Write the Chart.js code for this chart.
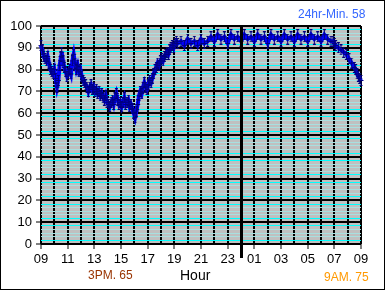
<!DOCTYPE html>
<html>
<head>
<meta charset="utf-8">
<script src="https://cdn.jsdelivr.net/npm/chart.js@4.4.0/dist/chart.umd.min.js"></script>
<style>
  html, body { margin: 0; padding: 0; background: #fff; }
  #wrap { width: 385px; height: 290px; }
</style>
</head>
<body>
<div id="wrap"><canvas id="chart" width="385" height="290"></canvas></div>
<script>
// Hours since 09:00 and the reading at each of them
const hours = [
  0.0, 0.1, 0.2, 0.3, 0.4, 0.5, 0.6, 0.7, 0.8, 0.9,
  1.0, 1.1, 1.2, 1.3, 1.4, 1.5, 1.55, 1.65, 1.75, 1.85,
  1.95, 2.05, 2.15, 2.25, 2.35, 2.45, 2.55, 2.65, 2.75, 2.85,
  2.95, 3.05, 3.15, 3.25, 3.35, 3.45, 3.55, 3.65, 3.75, 3.85,
  3.95, 4.05, 4.15, 4.25, 4.35, 4.45, 4.55, 4.65, 4.75, 4.85,
  4.95, 5.05, 5.15, 5.25, 5.35, 5.45, 5.55, 5.65, 5.75, 5.85,
  5.95, 6.05, 6.15, 6.25, 6.35, 6.45, 6.55, 6.65, 6.75, 6.85,
  6.95, 7.05, 7.15, 7.25, 7.35, 7.45, 7.55, 7.65, 7.75, 7.85,
  7.95, 8.05, 8.15, 8.25, 8.35, 8.45, 8.55, 8.65, 8.75, 8.85,
  8.95, 9.05, 9.15, 9.25, 9.35, 9.45, 9.55, 9.65, 9.75, 9.85,
  9.95, 10.05, 10.15, 10.25,
  10.5, 10.75, 11.0, 11.25, 11.5, 11.75, 12.0, 12.25, 12.5,
  12.75, 13.0, 13.25, 13.5, 13.75, 14.0, 14.25, 14.5, 14.75, 15.0,
  15.25, 15.5, 15.75, 16.0, 16.25, 16.5, 16.75, 17.0, 17.25, 17.5,
  17.75, 18.0, 18.25, 18.5, 18.75, 19.0, 19.25, 19.5, 19.75, 20.0,
  20.25, 20.5, 20.75, 21.0, 21.25, 21.5, 21.75,
  21.9, 22.0, 22.1, 22.3, 22.5, 22.7, 22.9, 23.1, 23.3, 23.5, 23.6, 23.7, 23.8, 23.9, 24.0
];
const temps = [
  91, 89, 86, 85, 84, 86, 83, 80, 79, 78,
  80, 76, 72, 75, 82, 86, 88, 84, 81, 79,
  77, 78, 80, 78, 84, 87, 83, 80, 82, 79,
  80, 77, 75, 74, 73, 72, 70, 72, 73, 71,
  72, 70, 71, 69, 70, 68, 69, 67, 66, 68,
  65, 64, 63, 65, 66, 64, 67, 69, 66, 64,
  65, 63, 65, 67, 64, 65, 66, 63, 64, 62,
  60, 58, 61, 64, 68, 70, 69, 72, 74, 72,
  71, 73, 75, 74, 76, 78, 80, 81, 83, 82,
  84, 85, 84, 86, 87, 88, 87, 89, 90, 91,
  90, 92, 93, 92,
  93, 91, 94, 92, 93, 91, 94, 92, 93,
  95, 93, 96, 94, 95, 92, 96, 94, 95, 93,
  96, 94, 95, 93, 96, 94, 95, 92, 96, 94,
  95, 93, 96, 94, 95, 93, 96, 94, 95, 93,
  96, 94, 95, 93, 96, 94, 93,
  93, 92, 91, 90, 89, 88, 87, 85, 83, 81, 80, 78, 77, 76, 75
];
const hourLabels = ['09', '10', '11', '12', '13', '14', '15', '16', '17', '18', '19', '20', '21',
  '22', '23', '00', '01', '02', '03', '04', '05', '06', '07', '08', '09'];
const yMajor = [0, 10, 20, 30, 40, 50, 60, 70, 80, 90, 100];
const minorPerMajor = 6;
const midnightIndex = 15;

const FONT = '"Liberation Sans", Arial, sans-serif';

// error-bar looking "+" marker
function makeMarker() {
  const c = document.createElement('canvas');
  c.width = 7; c.height = 11;
  const g = c.getContext('2d');
  g.fillStyle = '#000080';
  g.fillRect(3, 0, 1, 11);
  g.fillRect(1, 5, 5, 1);
  g.fillRect(2, 0, 3, 1);
  g.fillRect(2, 10, 3, 1);
  return c;
}

const decor = {
  id: 'decor',
  beforeDraw(chart) {
    const { ctx, chartArea: a } = chart;
    ctx.save();
    ctx.fillStyle = '#fff';
    ctx.fillRect(0, 0, chart.width, chart.height);
    ctx.fillStyle = '#c0c0c0';
    ctx.fillRect(a.left, a.top, a.right - a.left, a.bottom - a.top);
    ctx.restore();
  },
  afterDatasetsDraw(chart) {
    const { ctx, chartArea: a } = chart;
    const x = Math.round(chart.scales.x.getPixelForValue(midnightIndex));
    ctx.save();
    ctx.fillStyle = '#000';
    ctx.fillRect(x - 1, a.top, 3, 258 - a.top);
    ctx.restore();
  },
  afterDraw(chart) {
    const { ctx } = chart;
    ctx.save();
    ctx.textBaseline = 'middle';
    ctx.textAlign = 'left';
    ctx.font = '12px ' + FONT;
    ctx.fillStyle = '#3366ff';
    ctx.fillText('24hr-Min. 58', 298, 14.5);
    ctx.fillStyle = '#993300';
    ctx.fillText('3PM. 65', 88, 276);
    ctx.fillStyle = '#ff9900';
    ctx.fillText('9AM. 75', 324, 277.5);
    ctx.font = '14px ' + FONT;
    ctx.fillStyle = '#000';
    ctx.fillText('Hour', 180, 276);
    ctx.strokeStyle = '#000';
    ctx.lineWidth = 1;
    ctx.strokeRect(0.5, 0.5, chart.width - 1, chart.height - 1);
    ctx.restore();
  }
};

new Chart(document.getElementById('chart'), {
  type: 'line',
  data: {
    datasets: [{
      data: hours.map((h, i) => ({ x: h, y: temps[i] })),
      borderColor: '#0000ff',
      borderWidth: 4,
      tension: 0,
      pointStyle: makeMarker(),
      pointRadius: 4,
      clip: false
    }]
  },
  options: {
    responsive: false,
    animation: false,
    devicePixelRatio: 1,
    layout: { padding: { top: 26, right: 24, left: 0, bottom: 0 } },
    plugins: { legend: { display: false }, tooltip: { enabled: false } },
    scales: {
      x: {
        type: 'linear',
        min: 0,
        max: 24,
        afterFit: s => { s.height = 46; },
        ticks: {
          stepSize: 1,
          autoSkip: false,
          maxRotation: 0,
          padding: 3,
          color: '#000',
          font: { family: FONT, size: 13 },
          callback: v => (v % 2 === 0 ? hourLabels[v] : '')
        },
        grid: {
          color: ctx => (ctx.index === midnightIndex ? 'rgba(0,0,0,0)' : '#000'),
          lineWidth: 2,
          tickLength: 5,
          tickColor: ctx => (ctx.index % 2 === 0 ? '#000' : 'rgba(0,0,0,0)'),
          tickWidth: 1
        },
        border: { display: false }
      },
      y: {
        min: 0,
        max: 100,
        afterFit: s => { s.width = 41; },
        afterBuildTicks: s => {
          const ticks = [];
          yMajor.forEach((v, i) => {
            ticks.push({ value: v });
            if (i < yMajor.length - 1) {
              for (let k = 1; k < minorPerMajor; k++) {
                ticks.push({ value: v + (yMajor[i + 1] - v) * k / minorPerMajor });
              }
            }
          });
          s.ticks = ticks;
        },
        ticks: {
          autoSkip: false,
          padding: 4,
          color: '#000',
          font: { family: FONT, size: 13 },
          callback: (v, i) => (i % minorPerMajor === 0 ? String(yMajor[i / minorPerMajor]) : '')
        },
        grid: {
          color: ctx => {
            const k = ctx.index % minorPerMajor;
            if (k === 0) return '#000';
            if (k === 1 || k === minorPerMajor - 1) return '#00ffff';
            return '#a8e0e0';
          },
          lineWidth: ctx => (ctx.index % minorPerMajor === 0 ? 2 : 1),
          tickLength: 5,
          tickColor: ctx => (ctx.index % minorPerMajor === 0 ? '#000' : 'rgba(0,0,0,0)'),
          tickWidth: 1
        },
        border: { display: false }
      }
    }
  },
  plugins: [decor]
});
</script>
</body>
</html>
